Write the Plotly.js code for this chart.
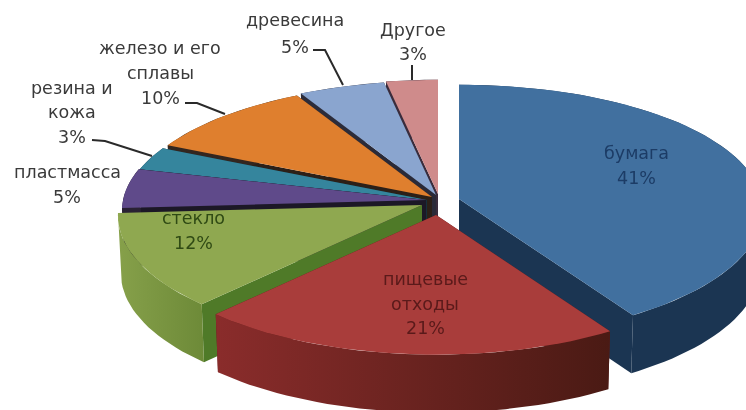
<!DOCTYPE html>
<html><head><meta charset="utf-8">
<script src="https://cdn.plot.ly/plotly-3.0.1.min.js"></script>
<style>html,body{margin:0;padding:0;background:#fff}#c{width:746px;height:410px;filter:blur(.6px)}</style>
</head><body><div id="c"></div>
<script>
// data
const categories = ["бумага","пищевые отходы","стекло","пластмасса","резина и кожа","железо и его сплавы","древесина","Другое"];
const values = [41,21,12,5,3,10,5,3];
// style
const topColors = ["#41709f","#a93d3b","#8fa850","#5f4a8a","#35859d","#df7f2e","#8aa5cf","#cf8b8b"];
const wallA = ["#1b3552","#8a2c2b","#86a04a","#2a2233","#1f3540","#33261f","#2c2c3a","#3a2c3c"];
const wallB = ["#1b3552","#4a1a14","#6d8a38","#2a2233","#1f3540","#33261f","#2c2c3a","#3a2c3c"];
const cutColors = ["#1b3552","#5a1a18","#4f7a28","#1c1826","#16303c","#2c2018","#2a2a38","#3a2c3c"];
const centersX = [459,436,422,426,427,432,436,438];
const centersY = [199,215,205,200,200,197,195,194];
const drawOrder = [7,6,5,4,3,0,2,1];
const RX = 303, RY = 127, KX = .085, KY = .1, DEPTH = 58, SHRINK = .01, STEP = 2;

const proj = (i, r, deg) => {
  const t = deg*Math.PI/180, X = r*Math.sin(t), Y = -r*Math.cos(t);
  return [centersX[i] + RX*X*(1+KX*Y), centersY[i] + RY*Y*(1+KY*Y)];
};
const total = values.reduce((a,b)=>a+b,0);
let acc = 0;
const spans = values.map(v => { const s = acc/total*360; acc += v; return [s, acc/total*360]; });

function poly(pts, color, grad) {
  const tr = {type:'scatter', mode:'lines', x:pts.map(p=>p[0]), y:pts.map(p=>p[1]),
    fill:'toself', line:{width:0,color:color}, fillcolor:color, hoverinfo:'skip', showlegend:false};
  if (grad) { tr.fillgradient = {type:'horizontal', colorscale:[[0,grad[0]],[1,grad[1]]]}; }
  return tr;
}
const traces = [];
drawOrder.forEach(i => {
  const [a,b] = spans[i];
  const arc = [];
  for (let d=a; d<b; d+=STEP) arc.push(proj(i,1,d));
  arc.push(proj(i,1,b));
  const c = proj(i,0,0);
  const down = p => [p[0] + (c[0]-p[0])*SHRINK, p[1]+DEPTH];
  const last = arc[arc.length-1];
  traces.push(poly([c, arc[0], down(arc[0]), down(c), c], cutColors[i]));
  if (i !== 2) traces.push(poly([c, last, down(last), down(c), c], cutColors[i]));
  traces.push(poly(arc.concat(arc.slice().reverse().map(down)).concat([arc[0]]), wallA[i], [wallA[i],wallB[i]]));
  traces.push(poly([c].concat(arc).concat([c]), topColors[i]));
});
// leader lines
const leaderX = [[412,412],[313,325,343],[185,197,225],[92,105,152]];
const leaderY = [[65,80],[50,50,85],[103,103,114],[140,141,156]];
leaderX.forEach((lx,k)=>traces.push({type:'scatter',mode:'lines',x:lx,y:leaderY[k],
  line:{color:'#2a2a2a',width:2},hoverinfo:'skip',showlegend:false}));

// labels
const labelText = ["Другое","3%","древесина","5%","железо и его","сплавы","10%","резина и","кожа","3%","пластмасса","5%","бумага","41%","пищевые","отходы","21%","стекло","12%"];
const labelX = [413,413,295,295,160,160,160,72,72,72,67,67,636,636,425,425,425,193,193];
const labelY = [30,54,20,47,48,73,98,88,112,137,172,197,153,178,279,304,328,218,243];
const labelC = ["#3a3a3a","#3a3a3a","#3a3a3a","#3a3a3a","#3a3a3a","#3a3a3a","#3a3a3a","#3a3a3a","#3a3a3a","#3a3a3a","#3a3a3a","#3a3a3a","#1c3c66","#1c3c66","#5a1a1a","#5a1a1a","#5a1a1a","#2f4a14","#2f4a14"];
const annotations = labelText.map((t,i)=>({text:t,x:labelX[i],y:labelY[i],xref:'x',yref:'y',showarrow:false,
  xanchor:'center',yanchor:'middle',font:{family:'"DejaVu Sans",sans-serif',size:17.5,color:labelC[i]}}));

Plotly.newPlot('c',traces,{
  width:746,height:410,margin:{l:0,r:0,t:0,b:0},paper_bgcolor:'#fff',plot_bgcolor:'#fff',showlegend:false,
  xaxis:{range:[0,746],visible:false,fixedrange:true},
  yaxis:{range:[410,0],visible:false,fixedrange:true},
  annotations
},{displayModeBar:false,staticPlot:true});
</script></body></html>
